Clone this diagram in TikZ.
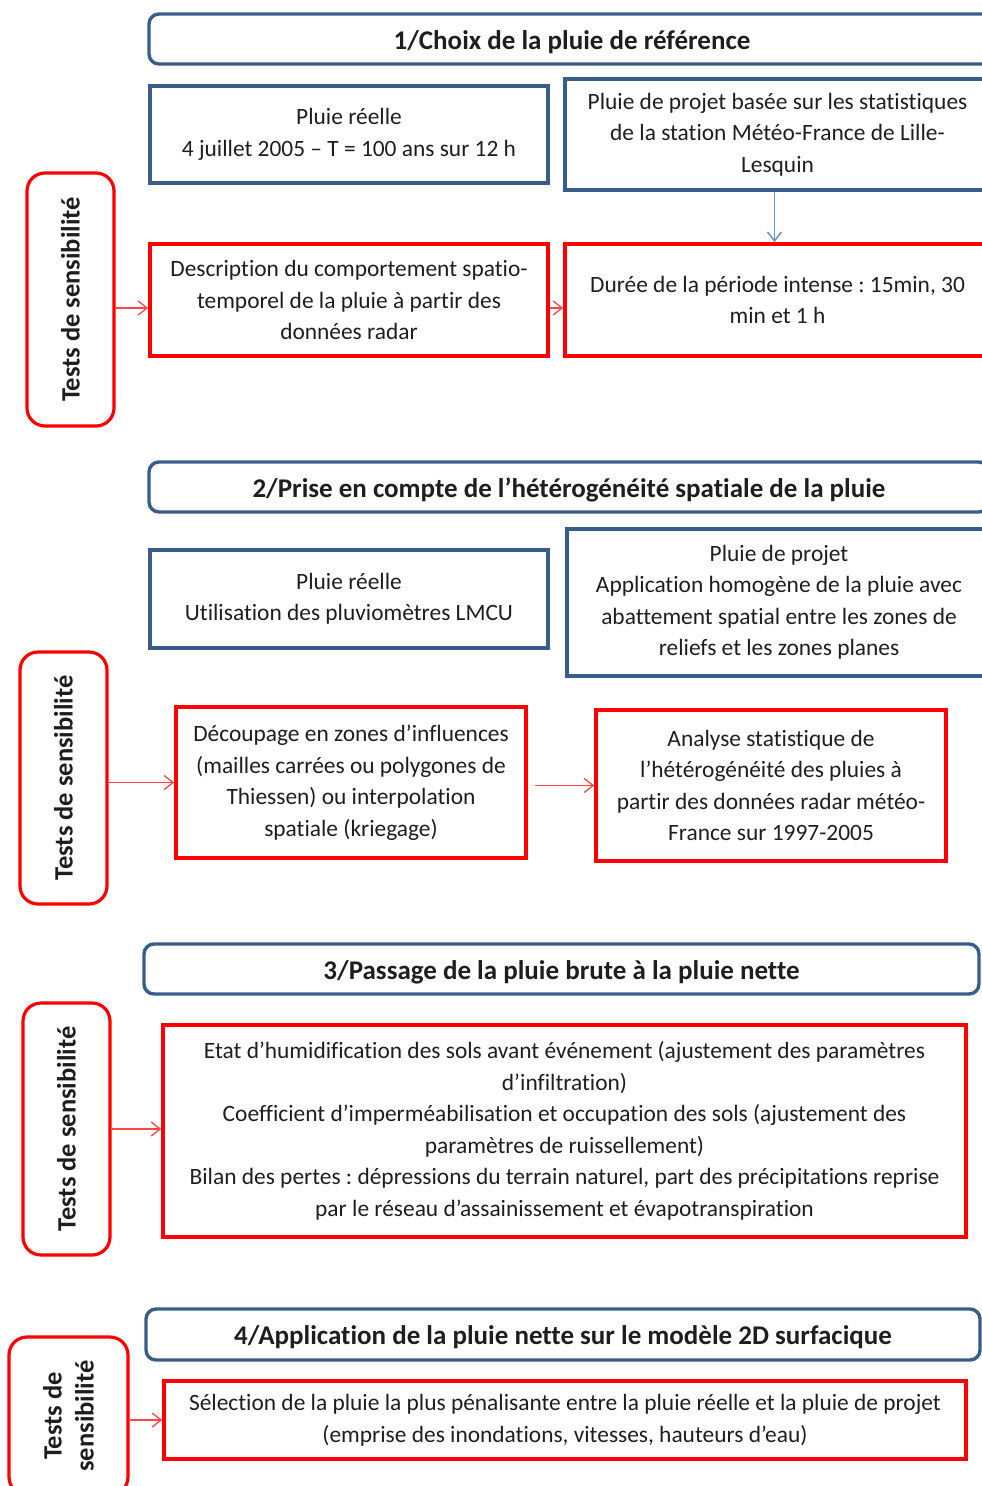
\documentclass[tikz,border=0pt]{standalone}
\usepackage{fontspec}
\setmainfont{Carlito}[Ligatures={NoCommon,NoRare}]
\usetikzlibrary{arrows.meta}
\definecolor{bl}{RGB}{56,93,138}
\definecolor{rd}{RGB}{255,0,0}
\definecolor{rarrow}{RGB}{255,70,70}
\definecolor{barrow}{RGB}{110,150,205}
\definecolor{txt}{RGB}{30,30,30}
\frenchspacing
\begin{document}
\begin{tikzpicture}[x=1pt,y=-1pt,
  base/.style={draw, align=center, text=txt, font=\fontsize{23.4}{31.5}\selectfont, inner sep=0pt},
  bluebox/.style={base, draw=bl, line width=3.4pt},
  redbox/.style={base, draw=rd, line width=3.6pt},
  titlebox/.style={bluebox, rounded corners=10pt, font=\fontsize{27}{32}\selectfont\bfseries, text height=20pt, text depth=0pt},
  testbox/.style={draw=rd, line width=3.2pt, rounded corners=18pt, inner sep=0pt},
  testlabel/.style={rotate=90, align=center, text=txt, font=\fontsize{26.5}{32}\selectfont\bfseries, inner sep=0pt},
  ra/.style={draw=rarrow, line width=1.3pt, -{Straight Barb[length=9pt,width=14pt]}},
  ba/.style={draw=barrow, line width=1.6pt, -{Straight Barb[length=9pt,width=14pt]}}
]
\useasboundingbox (0,0) rectangle (982,1486);
\clip (0,0) rectangle (982,1486);

% ---------- Section 1 ----------
\node[titlebox, minimum width=846, minimum height=50] (T1) at (572,39) {1/Choix de la pluie de référence};
\node[bluebox, minimum width=398, minimum height=97] (R1) at (349,134.5) {Pluie réelle\\4 juillet 2005 – T = 100 ans sur 12 h};
\node[bluebox, minimum width=425, minimum height=111] (P1) at (777.5,134.5) {Pluie de projet basée sur les statistiques\\de la station Météo-France de Lille-\\Lesquin};
\node[redbox, minimum width=398, minimum height=112] (D1) at (349,300) {Description du comportement spatio-\\temporel de la pluie à partir des\\données radar};
\node[redbox, minimum width=425, minimum height=112] (U1) at (777.5,300) {Durée de la période intense : 15min, 30\\min et 1 h};
\node[testbox, minimum width=87, minimum height=253] (S1) at (70.5,299.5) {};
\node[testlabel] (L1) at (S1) {Tests de sensibilité};
\draw[ra] ([yshift=-8pt]S1.east |- D1.west) -- ([yshift=-8pt]D1.west);
\draw[ra] ([yshift=-8pt]D1.east) -- ([yshift=-8pt]U1.west);
\draw[ba] ([xshift=-3pt]P1.south) -- ([xshift=-3pt]U1.north);

% ---------- Section 2 ----------
\node[titlebox, minimum width=840, minimum height=50] (T2) at (569,487) {2/Prise en compte de l’hétérogénéité spatiale de la pluie};
\node[bluebox, minimum width=398, minimum height=98] (R2) at (349,599) {Pluie réelle\\Utilisation des pluviomètres LMCU};
\node[bluebox, minimum width=424, minimum height=147] (P2) at (779,602.5) {Pluie de projet\\Application homogène de la pluie avec\\abattement spatial entre les zones de\\reliefs et les zones planes};
\node[redbox, minimum width=350, minimum height=151] (C2) at (351,782.5) {Découpage en zones d’influences\\(mailles carrées ou polygones de\\Thiessen) ou interpolation\\spatiale (kriegage)};
\node[redbox, minimum width=350, minimum height=151] (A2) at (771,785.5) {Analyse statistique de\\l’hétérogénéité des pluies à\\partir des données radar météo-\\France sur 1997-2005};
\node[testbox, minimum width=87, minimum height=252] (S2) at (63.5,778) {};
\node[testlabel] (L2) at (S2) {Tests de sensibilité};
\draw[ra] (S2.east |- C2) -- (C2.west);
\draw[ra, shorten <=7pt] (C2.east |- A2) -- (A2.west);

% ---------- Section 3 ----------
\node[titlebox, minimum width=835, minimum height=50] (T3) at (561.5,969) {3/Passage de la pluie brute à la pluie nette};
\node[redbox, minimum width=803, minimum height=212] (B3) at (564.5,1131) {Etat d’humidification des sols avant événement (ajustement des paramètres\\d’infiltration)\\Coefficient d’imperméabilisation et occupation des sols (ajustement des\\paramètres de ruissellement)\\Bilan des pertes : dépressions du terrain naturel, part des précipitations reprise\\par le réseau d’assainissement et évapotranspiration};
\node[testbox, minimum width=87, minimum height=252] (S3) at (66.5,1129) {};
\node[testlabel] (L3) at (S3) {Tests de sensibilité};
\draw[ra] (S3.east) -- (S3.east -| B3.west);

% ---------- Section 4 ----------
\node[titlebox, minimum width=834, minimum height=51] (T4) at (563,1334.5) {4/Application de la pluie nette sur le modèle 2D surfacique};
\node[redbox, minimum width=802, minimum height=78] (B4) at (565,1420) {Sélection de la pluie la plus pénalisante entre la pluie réelle et la pluie de projet\\(emprise des inondations, vitesses, hauteurs d’eau)};
\node[testbox, minimum width=119, minimum height=158] (S4) at (68.5,1416) {};
\node[testlabel] (L4) at (S4) {Tests de\\sensibilité};
\draw[ra] (S4.east |- B4) -- (B4.west);
\end{tikzpicture}
\end{document}
